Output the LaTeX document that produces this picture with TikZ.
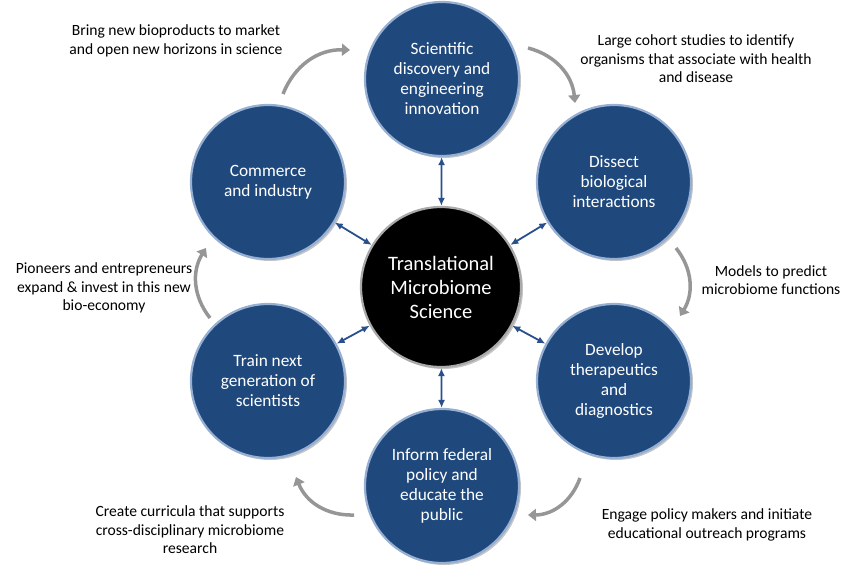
\documentclass[tikz,border=0pt]{standalone}
\usepackage{fontspec}
\setmainfont{Carlito}
\usetikzlibrary{arrows.meta,shadows}
\begin{document}
\begin{tikzpicture}[x=1pt,y=-1pt,
  outer/.style={circle,minimum size=154pt,fill={rgb,255:red,31;green,73;blue,125},draw={rgb,255:red,150;green,175;blue,210},line width=2.2pt,text=white,align=center,font=\fontsize{17.3}{20}\selectfont,drop shadow={opacity=0.45,shadow xshift=2pt,shadow yshift=-2pt}},
  core/.style={circle,minimum size=160pt,fill=black,draw={rgb,255:red,170;green,170;blue,170},line width=2.2pt,text=white,align=center,font=\fontsize{20.5}{24}\selectfont,drop shadow={opacity=0.45,shadow xshift=2pt,shadow yshift=-2pt}},
  link/.style={{Latex[length=8pt,width=7pt]}-{Latex[length=8pt,width=7pt]},draw={rgb,255:red,41;green,80;blue,140},line width=1.8pt},
  cyc/.style={-{Triangle[length=8pt,width=12pt]},draw={rgb,255:red,150;green,150;blue,150},line width=3.5pt},
  lab/.style={align=center,font=\fontsize{15.6}{18.5}\selectfont,text=black}]
\useasboundingbox (0,0) rectangle (856,570);
\node[outer] (t) at (442,79) {Scientific\\discovery and\\engineering\\innovation};
\node[outer] (ur) at (614,182) {Dissect\\biological\\interactions};
\node[outer] (lr) at (614,381) {Develop\\therapeutics\\and\\diagnostics};
\node[outer] (b) at (442,486) {Inform federal\\policy and\\educate the\\public};
\node[outer] (ll) at (268,381) {Train next\\generation of\\scientists};
\node[outer] (ul) at (268,182) {Commerce\\and industry};
\node[core] (c) at (441,287) {Translational\\Microbiome\\Science};
\foreach \n in {t,ur,lr,b,ll,ul} \draw[link] (c) -- (\n);
\coordinate (a1) at (283,94); \coordinate (a2) at (350,50);
\coordinate (b1) at (528,48); \coordinate (b2) at (575,103);
\coordinate (c1) at (676,248); \coordinate (c2) at (680,316);
\coordinate (d1) at (580,478); \coordinate (d2) at (528,515);
\coordinate (e1) at (354,515); \coordinate (e2) at (296,477);
\coordinate (f1) at (210,318); \coordinate (f2) at (206,248);
\draw[cyc] (a1) to[bend left=35] (a2);
\draw[cyc] (b1) to[bend left=35] (b2);
\draw[cyc] (c1) to[bend left=35] (c2);
\draw[cyc] (d1) to[bend left=35] (d2);
\draw[cyc] (e1) to[bend left=35] (e2);
\draw[cyc] (f1) to[bend left=35] (f2);
\node[lab] (la) at (176,41) {Bring new bioproducts to market\\and open new horizons in science};
\node[lab] (lb) at (696,59) {Large cohort studies to identify\\organisms that associate with health\\and disease};
\node[lab] (lc) at (771,280) {Models to predict\\microbiome functions};
\node[lab] (ld) at (707,525) {Engage policy makers and initiate\\educational outreach programs};
\node[lab] (le) at (190,530) {Create curricula that supports\\cross-disciplinary microbiome\\research};
\node[lab] (lf) at (104,288) {Pioneers and entrepreneurs\\expand \& invest in this new\\bio-economy};
\end{tikzpicture}
\end{document}
